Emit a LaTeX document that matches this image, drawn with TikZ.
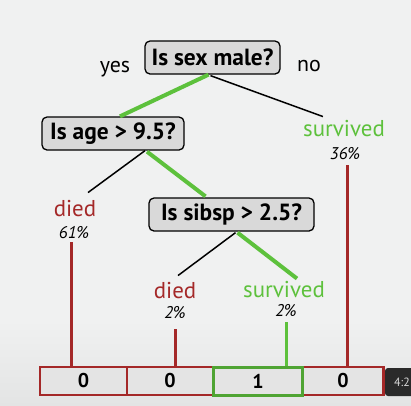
\documentclass[tikz,border=0pt]{standalone}
\usepackage{fontspec}
\setmainfont{PT Sans}
\usetikzlibrary{calc}
\definecolor{bggray}{HTML}{F0F1F1}
\definecolor{bggray2}{HTML}{E3E4E4}
\definecolor{boxfill}{HTML}{D9D9D9}
\definecolor{cellfill}{HTML}{E4E4E4}
\definecolor{lgreen}{HTML}{5DC13C}
\definecolor{dred}{HTML}{A42828}
\definecolor{stampbg}{HTML}{2A2A2A}
\tikzset{
  qbox/.style={draw=black, line width=1.3bp, rounded corners=5bp, fill=boxfill,
    minimum height=33bp, inner sep=0pt, font=\fontsize{23.5}{26}\selectfont\bfseries},
  leafdied/.style={text=dred, inner sep=0pt, font=\fontsize{23}{26}\selectfont},
  leafsurv/.style={text=lgreen, inner sep=0pt, font=\fontsize{23}{26}\selectfont},
  pct/.style={inner sep=0pt, font=\fontsize{17}{19}\selectfont\itshape},
  side/.style={inner sep=0pt, font=\fontsize{22}{24}\selectfont},
  gedge/.style={draw=lgreen, line width=4bp},
  bedge/.style={draw=black, line width=1.5bp},
  rline/.style={draw=dred, line width=3bp},
  gline/.style={draw=lgreen, line width=3bp},
  cell/.style={draw=dred, line width=2.2bp, fill=cellfill, minimum height=28bp,
    inner sep=0pt, font=\fontsize{20}{22}\selectfont\bfseries},
}
\begin{document}
\begin{tikzpicture}[x=1bp,y=-1bp]
\useasboundingbox (0,0) rectangle (411,406);
\fill[bggray] (0,0) rectangle (411,406);
\shade[top color=bggray, bottom color=bggray2] (0,320) rectangle (411,406);

% question nodes
\node[qbox, minimum width=135bp] (root) at (212.5,57.5) {Is sex male?};
\node[qbox, minimum width=142bp] (age) at (113,133.5) {Is age > 9.5?};
\node[qbox, minimum width=165bp] (sib) at (231.5,214.5) {Is sibsp > 2.5?};

% yes / no
\node[side] (yes) at (115,69) {yes};
\node[side] (no) at (309,66) {no};

% leaves
\node[leafsurv] (s1) at (344,129) {survived};
\node[pct] (p1) at (345,154) {36\%};
\node[leafdied] (d1) at (75,209) {died};
\node[pct] (p2) at (74,233) {61\%};
\node[leafdied] (d2) at (175,291) {died};
\node[pct] (p3) at (175,313) {2\%};
\node[leafsurv] (s2) at (284,290) {survived};
\node[pct] (p4) at (286,311) {2\%};

% bottom bar
\node[cell, minimum width=87bp] (c1) at (83.5,381) {0};
\node[cell, minimum width=86bp] (c2) at (170,381) {0};
\node[cell, minimum width=81bp] (c4) at (343,381) {0};
\node[cell, draw=lgreen!85!black, line width=3bp, minimum width=89bp] (c3) at (258,381) {1};

% edges
\draw[gedge] ($(root.south)+(-4,0)$) -- ($(age.north)+(7,0)$);
\draw[bedge] ($(root.south)+(-2,1)$) -- ($(s1.north west)+(20,-4)$);
\draw[bedge] ($(age.south)+(32,0)$) -- ($(d1.north)+(13,-8)$);
\draw[gedge] ($(age.south)+(34,1)$) -- ($(sib.north)+(-26,-1)$);
\draw[bedge] ($(sib.south)+(4,1)$) -- ($(d2.north)+(3,-7)$);
\draw[gedge] ($(sib.south)+(6,1)$) -- ($(s2.north)+(13,-3)$);

% vertical leaf lines
\coordinate (t1) at ($(p1.south)+(2,5)$);
\coordinate (t2) at ($(p2.south)+(-3,3)$);
\coordinate (t3) at ($(p3.south)+(0,10)$);
\coordinate (t4) at ($(p4.south)+(0,5)$);
\draw[rline] (t1) -- (t1 |- c4.north);
\draw[rline] (t2) -- (t2 |- c1.north);
\draw[rline] (t3) -- (t3 |- c2.north);
\draw[gline] (t4) -- (t4 |- c3.north);

% video timestamp overlay
\fill[stampbg, rounded corners=3bp] (385,368) rectangle (420,396);
\node[inner sep=0pt, anchor=east, text=white!85!black, font=\fontsize{12}{14}\selectfont] (stamp) at (410,382) {4:2};
\end{tikzpicture}
\end{document}
